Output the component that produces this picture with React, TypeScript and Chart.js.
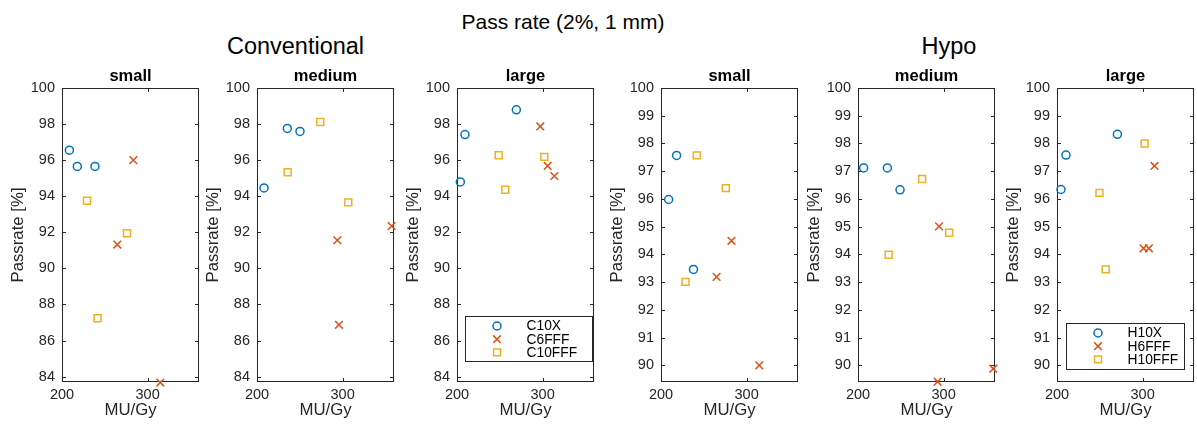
import React, { useEffect, useRef } from 'react';
import { Chart, registerables } from 'chart.js';

Chart.register(...registerables);

const FONT = "'Liberation Sans', Arial, Helvetica, sans-serif";
const AXIS = '#262626';
const COLORS = ['#0072BD', '#D95319', '#EDB120'];
const STYLES = ['circle', 'crossRot', 'rect'];
const RADII = [4.0, 5.4, 4.9];

// ---- Data: [MU/Gy, Passrate %] ----
const convLabels = ['C10X', 'C6FFF', 'C10FFF'];
const hypoLabels = ['H10X', 'H6FFF', 'H10FFF'];

const convSmallC10X = [[208.6, 96.55], [217.9, 95.65], [238.5, 95.65]];
const convSmallC6FFF = [[283.3, 96.0], [264.6, 91.32], [314.8, 83.67]];
const convSmallC10FFF = [[229.2, 93.75], [275.9, 91.95], [241.6, 87.23]];

const convMediumC10X = [[208.2, 94.46], [235.4, 97.76], [250.2, 97.59]];
const convMediumC6FFF = [[293.8, 91.56], [295.7, 86.87], [357.2, 92.34]];
const convMediumC10FFF = [[273.9, 98.11], [235.8, 95.33], [306.6, 93.66]];

const convLargeC10X = [[203.9, 94.79], [209.3, 97.42], [269.3, 98.79]];
const convLargeC6FFF = [[297.3, 97.87], [305.9, 95.68], [313.7, 95.12]];
const convLargeC10FFF = [[248.7, 96.27], [256.4, 94.36], [302.0, 96.18]];

const hypoSmallH10X = [[218.2, 97.57], [208.9, 95.98], [237.9, 93.46]];
const hypoSmallH6FFF = [[282.3, 94.49], [264.9, 93.19], [314.8, 90.0]];
const hypoSmallH10FFF = [[241.7, 97.57], [275.7, 96.39], [228.6, 93.01]];

const hypoMediumH10X = [[206.6, 97.12], [234.3, 97.12], [249.1, 96.33]];
const hypoMediumH6FFF = [[294.6, 95.01], [293.0, 89.41], [358.0, 89.88]];
const hypoMediumH10FFF = [[274.9, 96.72], [306.4, 94.78], [235.8, 93.99]];

const hypoLargeH10X = [[204.6, 96.34], [210.5, 97.58], [270.5, 98.33]];
const hypoLargeH6FFF = [[313.9, 97.19], [301.1, 94.22], [307.3, 94.22]];
const hypoLargeH10FFF = [[302.3, 98.0], [249.6, 96.22], [256.9, 93.46]];

// ---- Axes ----
const xTicks = [200, 300];
const xRange = [200, 360];
const convYTicks = [84, 86, 88, 90, 92, 94, 96, 98, 100];
const convYRange = [83.7, 100];
const hypoYTicks = [90, 91, 92, 93, 94, 95, 96, 97, 98, 99, 100];
const hypoYRange = [89.4, 100];

type Legend = { dx: number; dy: number; w: number; h: number } | null;
type PanelCfg = {
  title: string;
  left: number;
  labels: string[];
  series: number[][][];
  yTicks: number[];
  yRange: number[];
  legend: Legend;
};

const panels: PanelCfg[] = [
  { title: 'small', left: 62, labels: convLabels, series: [convSmallC10X, convSmallC6FFF, convSmallC10FFF], yTicks: convYTicks, yRange: convYRange, legend: null },
  { title: 'medium', left: 257, labels: convLabels, series: [convMediumC10X, convMediumC6FFF, convMediumC10FFF], yTicks: convYTicks, yRange: convYRange, legend: null },
  { title: 'large', left: 457, labels: convLabels, series: [convLargeC10X, convLargeC6FFF, convLargeC10FFF], yTicks: convYTicks, yRange: convYRange, legend: { dx: 8, dy: 228, w: 127, h: 45 } },
  { title: 'small', left: 661, labels: hypoLabels, series: [hypoSmallH10X, hypoSmallH6FFF, hypoSmallH10FFF], yTicks: hypoYTicks, yRange: hypoYRange, legend: null },
  { title: 'medium', left: 858, labels: hypoLabels, series: [hypoMediumH10X, hypoMediumH6FFF, hypoMediumH10FFF], yTicks: hypoYTicks, yRange: hypoYRange, legend: null },
  { title: 'large', left: 1057, labels: hypoLabels, series: [hypoLargeH10X, hypoLargeH6FFF, hypoLargeH10FFF], yTicks: hypoYTicks, yRange: hypoYRange, legend: { dx: 9, dy: 235, w: 118, h: 46 } },
];

const PLOT_W = 137;
const Y_AXIS_W = 60;
const CANVAS_W = Y_AXIS_W + PLOT_W + 8;
const CANVAS_H = 365;
const CANVAS_TOP = 60;

const matlabBox = {
  id: 'matlabBox',
  beforeDatasetsDraw(chart: any) {
    const { ctx, chartArea: a, scales } = chart;
    const x = scales.x;
    const y = scales.y;
    const L = Math.round(a.left) + 0.5;
    const R = Math.round(a.right) - 0.5;
    const T = Math.round(a.top) + 0.5;
    const B = Math.round(a.bottom) - 0.5;
    const tl = 3.5;
    ctx.save();
    ctx.strokeStyle = AXIS;
    ctx.lineWidth = 1;
    ctx.strokeRect(L, T, R - L, B - T);
    ctx.beginPath();
    x.ticks.forEach((t: any) => {
      const px = Math.round(x.getPixelForValue(t.value)) + 0.5;
      ctx.moveTo(px, B);
      ctx.lineTo(px, B - tl);
      ctx.moveTo(px, T);
      ctx.lineTo(px, T + tl);
    });
    y.ticks.forEach((t: any) => {
      const py = Math.round(y.getPixelForValue(t.value)) + 0.5;
      ctx.moveTo(L, py);
      ctx.lineTo(L + tl, py);
      ctx.moveTo(R, py);
      ctx.lineTo(R - tl, py);
    });
    ctx.stroke();
    ctx.restore();
  },
};

function drawMarker(ctx: CanvasRenderingContext2D, style: string, x: number, y: number, r: number) {
  ctx.beginPath();
  if (style === 'circle') {
    ctx.arc(x, y, r, 0, Math.PI * 2);
  } else if (style === 'crossRot') {
    const d = r * Math.SQRT1_2;
    ctx.moveTo(x - d, y - d);
    ctx.lineTo(x + d, y + d);
    ctx.moveTo(x + d, y - d);
    ctx.lineTo(x - d, y + d);
  } else {
    const s = r * Math.SQRT1_2;
    ctx.rect(x - s, y - s, 2 * s, 2 * s);
  }
  ctx.stroke();
}

const boxLegend = {
  id: 'boxLegend',
  afterDraw(chart: any, _args: any, opts: any) {
    if (!opts || !opts.display) return;
    const { ctx, chartArea: a } = chart;
    const x0 = Math.round(a.left + opts.dx) + 0.5;
    const y0 = Math.round(a.top + opts.dy) + 0.5;
    ctx.save();
    ctx.fillStyle = '#ffffff';
    ctx.fillRect(x0, y0, opts.w, opts.h);
    ctx.strokeStyle = AXIS;
    ctx.lineWidth = 1;
    ctx.strokeRect(x0, y0, opts.w, opts.h);
    chart.data.datasets.forEach((ds: any, i: number) => {
      const cy = y0 + 9.5 + i * 13.2;
      ctx.strokeStyle = ds.borderColor;
      ctx.lineWidth = ds.borderWidth;
      drawMarker(ctx, ds.pointStyle, x0 + 31.5, cy, ds.pointRadius);
      ctx.fillStyle = '#000000';
      ctx.font = `13.8px ${FONT}`;
      ctx.textBaseline = 'middle';
      ctx.textAlign = 'left';
      ctx.fillText(ds.label, x0 + 61, cy + 0.5);
    });
    ctx.restore();
  },
};

function Panel({ cfg }: { cfg: PanelCfg }) {
  const ref = useRef<HTMLCanvasElement>(null);
  useEffect(() => {
    const datasets = cfg.series.map((pts, i) => ({
      label: cfg.labels[i],
      data: pts.map(([x, y]) => ({ x, y })),
      pointStyle: STYLES[i],
      pointRadius: RADII[i],
      pointHoverRadius: RADII[i],
      borderColor: COLORS[i],
      backgroundColor: 'rgba(0,0,0,0)',
      borderWidth: 1.5,
      showLine: false,
      clip: false as any,
    }));
    const chart = new Chart(ref.current as HTMLCanvasElement, {
      type: 'scatter',
      data: { datasets: datasets as any },
      plugins: [matlabBox, boxLegend],
      options: {
        animation: false,
        responsive: false,
        events: [],
        layout: { padding: { left: 0, top: 7, right: 8, bottom: 0 } },
        plugins: {
          legend: { display: false },
          tooltip: { enabled: false },
          title: {
            display: true,
            text: cfg.title,
            fullSize: false,
            color: '#000000',
            font: { family: FONT, size: 16.5, weight: 'bold', lineHeight: 1.2 },
            padding: { top: 0, bottom: 1.2 },
          },
          boxLegend: cfg.legend ? { display: true, ...cfg.legend } : { display: false },
        } as any,
        scales: {
          x: {
            type: 'linear',
            min: xRange[0],
            max: xRange[1],
            grid: { display: false, drawTicks: false },
            border: { display: false },
            afterBuildTicks: (s: any) => {
              s.ticks = xTicks.map((v) => ({ value: v }));
            },
            afterFit: (s: any) => {
              s.height = 43;
            },
            ticks: {
              color: AXIS,
              padding: 4,
              maxRotation: 0,
              font: { family: FONT, size: 14.5, lineHeight: 1.2 },
            },
            title: {
              display: true,
              text: 'MU/Gy',
              color: AXIS,
              font: { family: FONT, size: 16.8, lineHeight: 1.2 },
              padding: { top: 0, bottom: 4.2 },
            },
          },
          y: {
            type: 'linear',
            min: cfg.yRange[0],
            max: cfg.yRange[1],
            grid: { display: false, drawTicks: false },
            border: { display: false },
            afterBuildTicks: (s: any) => {
              s.ticks = cfg.yTicks.map((v) => ({ value: v }));
            },
            afterFit: (s: any) => {
              s.width = Y_AXIS_W;
            },
            ticks: {
              color: AXIS,
              padding: 7,
              font: { family: FONT, size: 14.5, lineHeight: 1.2 },
            },
            title: {
              display: true,
              text: 'Passrate [%]',
              color: AXIS,
              font: { family: FONT, size: 16.8, lineHeight: 1.2 },
              padding: { top: 6, bottom: 0 },
            },
          },
        } as any,
      },
    });
    return () => chart.destroy();
  }, [cfg]);
  return (
    <canvas
      ref={ref}
      width={CANVAS_W}
      height={CANVAS_H}
      style={{ position: 'absolute', left: cfg.left - Y_AXIS_W, top: CANVAS_TOP, width: CANVAS_W, height: CANVAS_H }}
    />
  );
}

export default function App() {
  const text = (s: string, cx: number, top: number, size: number) => (
    <div
      style={{
        position: 'absolute',
        left: cx - 200,
        width: 400,
        top,
        textAlign: 'center',
        fontFamily: FONT,
        fontSize: size,
        lineHeight: `${size}px`,
        color: '#000',
        whiteSpace: 'nowrap',
      }}
    >
      {s}
    </div>
  );
  return (
    <div style={{ position: 'absolute', left: 0, top: 0, width: 1197, height: 425, background: '#fff', overflow: 'hidden' }}>
      {text('Pass rate (2%, 1 mm)', 563, 10.5, 21)}
      {text('Conventional', 295.5, 35, 23.5)}
      {text('Hypo', 949, 35, 23.5)}
      {panels.map((p, i) => (
        <Panel key={i} cfg={p} />
      ))}
    </div>
  );
}
